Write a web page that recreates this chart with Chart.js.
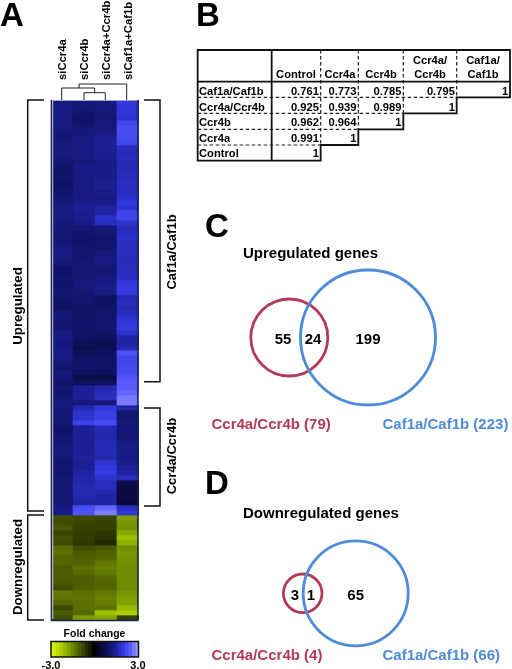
<!DOCTYPE html>
<html><head><meta charset="utf-8">
<script src="https://cdn.jsdelivr.net/npm/chart.js@4"></script>
<style>
html,body{margin:0;padding:0;background:#fff;overflow:hidden}
#root{position:relative;width:512px;height:669px;overflow:hidden;filter:blur(.4px);font-family:"Liberation Sans",Arial,sans-serif;font-weight:bold;color:#000}
canvas{position:absolute}
#heat{filter:blur(.7px)}
svg{position:absolute;left:0;top:0;pointer-events:none}
.t{position:absolute;white-space:nowrap;line-height:1}
</style></head><body><div id="root">
<canvas id="heat" style="left:0;top:0"></canvas>
<canvas id="bar" style="left:0;top:625px"></canvas>
<canvas id="vennC" style="left:190px;top:265px"></canvas>
<canvas id="vennD" style="left:190px;top:530px"></canvas>
<svg id="ov" width="512" height="669"></svg>
</div>
<script>
// ---- Panel A: fold change per gene row, one list per sample
const samples = ['siCcr4a','siCcr4b','siCcr4a+Ccr4b','siCaf1a+Caf1b'];
const siCcr4a = [1.25,1.25,1.3,1.25,1.3,1.25,1.15,1.15,1.2,1.2,1.25,1.2,1.15,1.05,1.05,1.1,1.0,1.0,1.1,1.15,1.2,
 1.3,1.25,1.25,1.2,1.2,1.15,1.15,1.15,1.25,1.25,1.25,1.2,1.05,1.05,1.1,1.1,1.05,1.1,1.1,1.0,1.0,
 1.2,1.15,1.1,1.1,1.25,1.3,1.2,1.25,1.3,1.3,1.15,1.1,1.2,1.15,1.05,1.15,1.1,1.15,1.25,1.2,1.15,
 1.15,1.15,1.05,1.05,1.15,1.15,1.2,1.2,1.15,1.1,1.1,1.1,1.15,1.15,1.15,1.15,1.15,1.15,1.25,1.3,
 -0.85,-0.85,-0.95,-0.75,-0.85,-0.8,-1.15,-1.2,-1.1,-1.1,-1.0,-1.0,-1.0,-0.95,-0.85,-1.3,-1.25,-1.1,-0.8,-1.0,-0.85];
const siCcr4b = [1.2,1.15,1.1,1.05,1.05,1.15,1.2,1.25,1.3,1.3,1.3,1.25,1.2,1.3,1.3,1.3,1.3,1.3,1.25,1.25,1.4,
 1.5,1.4,1.4,1.35,1.15,1.1,1.05,1.05,1.1,1.1,1.1,1.15,1.15,1.15,1.15,1.2,1.2,1.15,1.1,1.1,1.05,
 1.05,1.0,1.1,1.05,1.05,1.0,0.85,0.75,0.9,1.0,1.1,1.05,1.0,0.7,0.95,1.5,1.5,1.5,1.2,1.7,1.9,
 1.9,2.15,1.5,1.5,1.45,1.5,1.5,1.5,1.55,1.45,1.5,1.6,1.65,1.65,1.7,1.7,1.65,1.6,2.3,2.4,
 -0.8,-0.75,-0.7,-0.65,-0.65,-0.6,-0.85,-1.0,-1.05,-1.1,-1.2,-1.15,-1.0,-1.0,-1.05,-1.2,-1.25,-1.2,-1.2,-1.15,-1.7];
const siCcr4aCcr4b = [1.25,1.2,1.2,1.15,1.2,1.2,1.3,1.45,1.5,1.45,1.4,1.4,1.35,1.35,1.35,1.4,1.45,1.45,1.35,1.3,1.4,
 1.6,1.6,1.85,1.8,1.2,1.15,1.1,1.1,1.1,1.2,1.25,1.25,1.15,1.15,1.25,1.3,1.35,1.3,1.0,1.0,1.05,
 1.1,1.1,1.1,1.1,1.05,0.95,0.8,0.85,0.95,1.0,1.05,1.0,0.95,0.7,0.95,1.65,1.75,1.8,1.2,2.0,2.1,
 2.1,2.3,1.7,1.65,1.65,1.7,1.7,1.7,1.65,1.9,2.0,2.05,1.9,1.75,1.75,1.65,1.6,1.6,2.6,2.8,
 -0.75,-0.7,-0.7,-0.6,-0.55,-0.45,-0.95,-1.05,-1.1,-1.3,-1.35,-1.3,-1.15,-1.1,-1.1,-1.3,-1.4,-1.35,-1.25,-2.1,-1.8];
const siCaf1aCaf1b = [2.0,1.95,1.95,1.9,2.2,2.3,2.3,2.25,2.2,1.75,1.7,1.75,1.7,1.7,1.75,1.75,1.8,1.8,1.8,1.85,2.0,
 1.9,2.2,2.2,1.9,1.75,1.8,1.85,1.8,1.8,1.8,1.75,1.75,1.75,1.8,1.8,2.0,2.05,2.0,1.7,1.8,1.7,
 1.75,1.9,2.0,2.05,1.9,1.6,1.6,1.7,2.35,2.2,2.2,2.25,2.25,2.4,2.5,2.5,2.6,2.75,2.8,1.6,1.1,
 1.15,1.2,1.2,1.15,1.15,1.3,1.35,1.35,1.35,1.4,1.5,1.6,1.8,0.7,0.6,0.6,0.65,0.55,1.8,1.95,
 -1.7,-1.6,-1.55,-1.8,-2.1,-1.9,-1.55,-1.6,-1.55,-1.55,-1.5,-1.5,-1.5,-1.5,-1.5,-1.6,-1.7,-1.75,-2.0,-2.3,-0.7];
const foldScale = [-3,-2.75,-2.5,-2.25,-2,-1.75,-1.5,-1.25,-1,-0.75,-0.5,-0.25,0,0.25,0.5,0.75,1,1.25,1.5,1.75,2,2.25,2.5,2.75,3];
// ---- Panel B
const corrColumns = ['Control','Ccr4a','Ccr4b','Ccr4a/\nCcr4b','Caf1a/\nCaf1b'];
const corrNames = ['Caf1a/Caf1b','Ccr4a/Ccr4b','Ccr4b','Ccr4a','Control'];
const corrCaf = ['0.761','0.773','0.785','0.795','1'];
const corrCcrBoth = ['0.925','0.939','0.989','1'];
const corrCcr4b = ['0.962','0.964','1'];
const corrCcr4a = ['0.991','1'];
const corrControl = ['1'];
// ---- Panels C, D: circle centres and radii
const vennCx = [178,99.3], vennCy = [72.5,72.5], vennCr = [67.5,38.5];
const vennDx = [165.7,112.7], vennDy = [63.3,63.3], vennDr = [52.5,19.3];
const vennNames = ['Caf1a/Caf1b','Ccr4a/Ccr4b'];

function lerpStops(stops,t){
  for(let i=1;i<stops.length;i++){ if(t<=stops[i][0]){
    const a=stops[i-1],b=stops[i],f=(t-a[0])/(b[0]-a[0]);
    return 'rgb('+[1,2,3].map(k=>Math.round(a[k]+(b[k]-a[k])*f)).join(',')+')';
  }}
  const l=stops[stops.length-1];return 'rgb('+l[1]+','+l[2]+','+l[3]+')';
}
const posStops=[[0,0,0,0],[0.6,10,10,62],[1,16,18,100],[1.5,28,32,150],[2,50,56,222],[2.5,88,90,255],[3,150,150,255]];
const negStops=[[0,0,0,0],[1,76,92,0],[2,150,185,0],[3,232,255,0]];
const foldColor=v=>v>=0?lerpStops(posStops,v):lerpStops(negStops,-v);

Chart.defaults.animation=false;
Chart.defaults.font.family='"Liberation Sans",Arial,sans-serif';
Chart.defaults.font.weight='bold';
Chart.defaults.color='#000';
function size(id,w,h){const c=document.getElementById(id);c.width=w;c.height=h;c.style.width=w+'px';c.style.height=h+'px';return c;}

const rowCols=[siCcr4a,siCcr4b,siCcr4aCcr4b,siCaf1aCaf1b];
new Chart(size('heat',190,625),{
  type:'bar',
  data:{labels:samples,datasets:siCcr4a.map((_,i)=>({
    data:rowCols.map(()=>1),
    backgroundColor:rowCols.map(c=>foldColor(c[i])),
    barPercentage:1,categoryPercentage:1,borderWidth:0,stack:'s'}))},
  options:{responsive:false,
    layout:{padding:{left:51,right:51,bottom:5,top:0}},
    plugins:{legend:{display:false},tooltip:{enabled:false}},
    scales:{
      x:{position:'top',stacked:true,border:{display:false},grid:{display:false,drawTicks:false},
        afterFit:s=>{s.height=100;},
        ticks:{minRotation:90,maxRotation:90,padding:20,labelOffset:14.5,font:{size:11.3,weight:'bold'},autoSkip:false}},
      y:{display:false,stacked:true,reverse:true,min:0,max:siCcr4a.length}
    }}
});

new Chart(size('bar',189,44),{
  type:'bar',
  data:{datasets:[{data:foldScale.map(v=>({x:v,y:1})),
    backgroundColor:foldScale.map(foldColor),barPercentage:1.3,categoryPercentage:1,borderWidth:0}]},
  options:{responsive:false,
    layout:{padding:{left:51,right:51,top:0,bottom:0}},
    plugins:{legend:{display:false},tooltip:{enabled:false},
      title:{display:true,text:'Fold change',font:{size:10.5,weight:'bold'},padding:{top:3,bottom:1}}},
    scales:{
      x:{type:'linear',offset:false,min:-3,max:3,border:{display:false},grid:{display:false,drawTicks:false},
        afterFit:s=>{s.height=12;},
        afterBuildTicks:s=>{s.ticks=[{value:-3},{value:3}];},
        ticks:{padding:2,font:{size:11,weight:'bold'},maxRotation:0,callback:v=>v.toFixed(1)}},
      y:{display:false,min:0,max:1}
    }}
});

function venn(id,h,xs,ys,rs){
  const colors=['#4f8bd6','#b23a55'];
  new Chart(size(id,322,h),{
    type:'bubble',
    data:{datasets:xs.map((x,i)=>({label:vennNames[i],data:[{x,y:ys[i],r:rs[i]}],
      backgroundColor:'rgba(0,0,0,0)',borderColor:colors[i],borderWidth:2.8,clip:false}))},
    options:{responsive:false,
      layout:{autoPadding:false},
      plugins:{legend:{display:false},tooltip:{enabled:false}},
      scales:{x:{display:false,min:0,max:322},y:{display:false,min:0,max:h,reverse:true}}}
  });
}
venn('vennC',145,vennCx,vennCy,vennCr);
venn('vennD',126,vennDx,vennDy,vennDr);

// ---- real text
const root=document.getElementById('root');
function T(txt,x,y,size,o={}){
  const e=document.createElement('div');e.className='t';e.textContent=txt;
  e.style.left=x+'px';e.style.top=y+'px';e.style.fontSize=size+'px';
  if(o.color)e.style.color=o.color;
  const a=o.align||'center';
  const tx=a==='center'?'-50%':a==='right'?'-100%':'0';
  e.style.transform='translate('+tx+',-50%)'+(o.rot?' rotate(-90deg)':'');
  root.appendChild(e);
}
// panel letters
T('A',0,14,33,{align:'left'});T('B',196,14,33,{align:'left'});T('C',205,225,33,{align:'left'});T('D',205,482,33,{align:'left'});
// panel A annotations
T('Upregulated',18,306,13.3,{rot:1});T('Downregulated',18,567,13.3,{rot:1});
T('Caf1a/Caf1b',171,252,13,{rot:1});T('Ccr4a/Ccr4b',171,456,13,{rot:1});
// panel B table
const colX=[271.7,320.7,358.3,403.3,456.7,510];
const rowY=[91.7,107.7,123,138.7,154.3];
corrColumns.forEach((c,i)=>{
  const cx=[296,340,381,430,483][i];const parts=c.split('\n');
  if(parts.length===2){T(parts[0],cx,61,11.2);T(parts[1],cx,75,11.2);}else T(c,cx,75,11.2);
});
[corrCaf,corrCcrBoth,corrCcr4b,corrCcr4a,corrControl].forEach((vals,r)=>{
  T(corrNames[r],199,rowY[r],11.2,{align:'left'});
  vals.forEach((v,c)=>T(v,colX[c+1]-1.8,rowY[r],11.2,{align:'right'}));
});
// panels C, D
const RED='#b23a55',BLUE='#4f8bd6';
T('Upregulated genes',243,252,15,{align:'left'});
T('55',283,338,15);T('24',313,338,15);T('199',368,338,15);
T('Ccr4a/Ccr4b (79)',211.5,423,15,{align:'left',color:RED});
T('Caf1a/Caf1b (223)',382.5,423,15,{align:'left',color:BLUE});
T('Downregulated genes',243,512,15,{align:'left'});
T('3',295,594,15);T('1',311,594,15);T('65',355.7,594,15);
T('Ccr4a/Ccr4b (4)',211.5,654,15,{align:'left',color:RED});
T('Caf1a/Caf1b (66)',382.5,654,15,{align:'left',color:BLUE});

// ---- brackets, dendrogram, frames, table rules
const ov=document.getElementById('ov');
function L(d,w,c,dash){const p=document.createElementNS('http://www.w3.org/2000/svg','path');
  p.setAttribute('d',d);p.setAttribute('fill','none');p.setAttribute('stroke',c||'#111');p.setAttribute('stroke-width',w);
  if(dash)p.setAttribute('stroke-dasharray',dash);ov.appendChild(p);}
L('M44 100H27.7V511H44',1.5);
L('M44 515H27.7V620H44',1.5);
L('M144 100H160V381.7H144',1.5);
L('M144 408H160V506H144',1.5);
L('M61.7 100V88H94.7V92.7M84 100V92.7H105.3V100M79 88V84H126.7V100',1,'#222');
L('M52.7 101V619',1,'#c8d0e8');
L('M52 100.5H138',1,'#9aa4d8');
L('M51.3 100V620.5H137.8V100',1.3,'#16204a');
L('M51 641.5H138.5V657H51Z',1.5,'#111');
const S=(x)=>x/3+185,Y=y=>y/3;
// table
L(`M${S(38)} ${Y(150)}H${S(975)}V${Y(292)}H${S(815)}V${Y(340)}H${S(655)}V${Y(388)}H${S(520)}V${Y(435)}H${S(407)}V${Y(482)}H${S(38)}Z`,1.8);
L(`M${S(38)} ${Y(245)}H${S(975)}M${S(260)} ${Y(150)}V${Y(482)}`,1.8);
L(`M${S(38)} ${Y(292)}H${S(815)}M${S(38)} ${Y(340)}H${S(655)}M${S(38)} ${Y(388)}H${S(520)}M${S(38)} ${Y(435)}H${S(407)}`,1.2,'#222','3.5 2.5');
L(`M${S(407)} ${Y(150)}V${Y(435)}M${S(520)} ${Y(150)}V${Y(388)}M${S(655)} ${Y(150)}V${Y(340)}M${S(815)} ${Y(150)}V${Y(292)}`,1.2,'#222','3.5 2.5');
</script></body></html>
